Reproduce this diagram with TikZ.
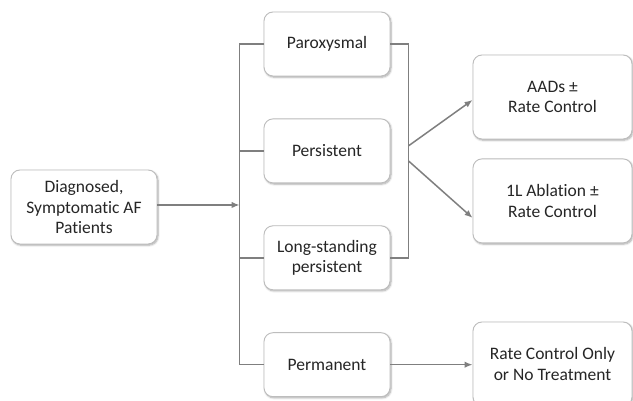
\documentclass[tikz,border=0pt]{standalone}
\usepackage{fontspec}
\setmainfont{Carlito}[Ligatures={NoCommon}]
\usetikzlibrary{positioning}
\usetikzlibrary{arrows.meta}
\usetikzlibrary{calc, shadows.blur}
\definecolor{lineGray}{HTML}{7F7F7F}
\definecolor{borderGray}{HTML}{BDBDBD}
\tikzset{%
	% Specifications for style of nodes:
	base/.style = {rectangle, rounded corners=9pt, draw=borderGray, line width=0.9pt,
		fill=white, align=center, inner sep=2pt, text=black!85,
		blur shadow={shadow xshift=1pt, shadow yshift=-1.2pt, shadow blur steps=6, shadow opacity=35},
		font=\fontsize{17.5pt}{20.5pt}\selectfont},
	patientBox/.style = {base, minimum width=146pt, minimum height=74pt},
	stageBox/.style = {base, minimum width=126pt, minimum height=64pt},
	therapyBox/.style = {base, minimum width=159pt, minimum height=84pt},
	connector/.style = {draw=lineGray, line width=1.5pt},
	arrowLine/.style = {connector, -{Latex[length=8pt, width=6.5pt]}}
}

\begin{document}
\begin{tikzpicture}[x=1pt, y=1pt]
		\useasboundingbox (0,0) rectangle (633,401);
		\clip (0,0) rectangle (633,401);
		\node (diagnosed) [patientBox] at (84,194) {Diagnosed,\\Symptomatic AF\\Patients};
		\node (paroxysmal) [stageBox] at (327,357) {Paroxysmal};
		\node (persistent) [stageBox, below=42pt of paroxysmal] {Persistent};
		\node (longStanding) [stageBox, below=42pt of persistent] {Long-standing\\persistent};
		\node (permanent) [stageBox, below=42pt of longStanding] {Permanent};
		\node (aads) [therapyBox] at (552.5,304) {AADs ±\\Rate Control};
		\node (ablation) [therapyBox, below=19pt of aads] {1L Ablation ±\\Rate Control};
		\node (rateOnly) [therapyBox] at (552.5,37) {Rate Control Only\\or No Treatment};
		
		% trunk on the left of the stages
		\coordinate (trunk) at ($(paroxysmal.west)+(-24pt,0)$);
		\draw[connector] (paroxysmal.west) -- (trunk) |- (permanent.west);
		\draw[connector] (persistent.west) -- (persistent.west -| trunk);
		\draw[connector] (longStanding.west) -- (longStanding.west -| trunk);
		\draw[arrowLine] (diagnosed.east) ++(0,2pt) -- ($(diagnosed.east -| trunk)+(0,2pt)$);
		
		% bracket on the right of the stages
		\coordinate (bracket) at ($(paroxysmal.east)+(18pt,0)$);
		\draw[connector] (paroxysmal.east) -- (bracket) |- (longStanding.east);
		\coordinate (upStart) at ($(bracket |- persistent.east)+(0,5pt)$);
		\coordinate (downStart) at ($(bracket |- persistent.east)+(0,-10pt)$);
		\draw[arrowLine] (upStart) -- ($(aads.west)+(0,-3pt)$);
		\draw[arrowLine] (downStart) -- ($(ablation.west)+(0,-17pt)$);
		\draw[arrowLine] (permanent.east) -- (rateOnly.west |- permanent.east);
	\end{tikzpicture}
\end{document}
